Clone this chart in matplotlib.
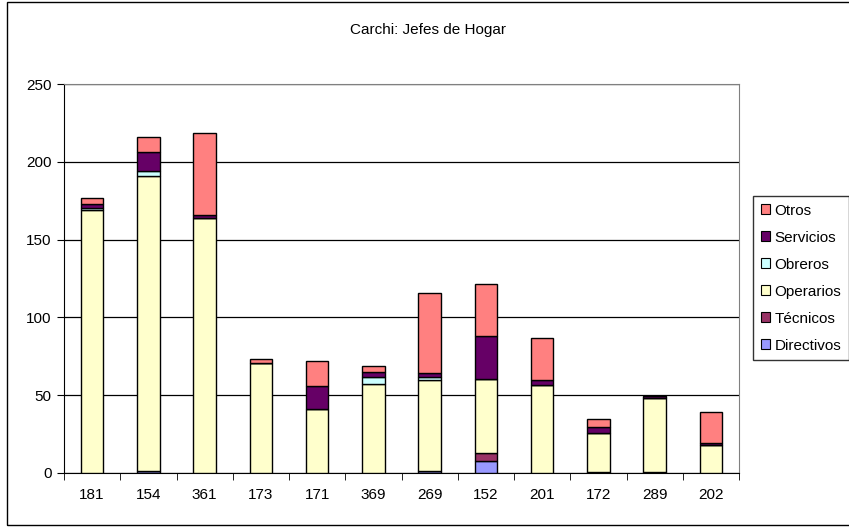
import matplotlib.pyplot as plt
from matplotlib.patches import Patch, Rectangle
import numpy as np

plt.rcParams['font.family'] = ['Liberation Sans', 'DejaVu Sans']

# Data
categories = ['181', '154', '361', '173', '171', '369', '269', '152', '201', '172', '289', '202']
directivos = [0, 1, 0, 0, 0, 0, 1.5, 8, 0, 0.5, 0.5, 0]
tecnicos = [0, 0, 0, 0, 0, 0, 0, 5, 0, 0, 0, 0]
operarios = [169, 190, 164, 71, 41, 57, 58.5, 47.5, 56.5, 25, 48, 18]
obreros = [1, 3, 0, 0, 0, 5, 1.5, 0, 0, 0, 0, 0]
servicios = [3, 12, 1.5, 0, 15, 3, 2.5, 27.5, 3.5, 4, 1, 1]
otros = [3.5, 10, 53, 2.5, 16, 4, 52, 33.5, 26.5, 5, 0, 20]

series = [
    ('Directivos', directivos, '#9999FF'),
    ('Técnicos', tecnicos, '#993366'),
    ('Operarios', operarios, '#FFFFCC'),
    ('Obreros', obreros, '#CCFFFF'),
    ('Servicios', servicios, '#660066'),
    ('Otros', otros, '#FF8080'),
]

W, H = 849, 527
fig = plt.figure(figsize=(W / 100, H / 100), dpi=100)
ax = fig.add_axes([64 / W, (H - 473) / H, 675 / W, 389 / H])

x = np.arange(len(categories))
bottom = np.zeros(len(categories))
for name, vals, col in series:
    vals = np.array(vals, dtype=float)
    ax.bar(x, vals, width=0.4, bottom=bottom, color=col, edgecolor='black',
           linewidth=1, zorder=3)
    bottom += vals

ax.set_xlim(-0.5, len(categories) - 0.5)
ax.set_ylim(0, 250)
ax.set_yticks(range(0, 251, 50))
ax.yaxis.grid(True, color='black', linewidth=0.9, zorder=0)
ax.tick_params(axis='y', direction='out', length=5, labelsize=11, pad=4)

# category labels centred, ticks between categories
ax.set_xticks(x)
ax.set_xticklabels(categories, fontsize=11)
ax.tick_params(axis='x', which='major', length=0, pad=11)
ax.set_xticks(np.arange(-0.5, len(categories)), minor=True)
ax.tick_params(axis='x', which='minor', direction='out', length=5)

for s in ['top', 'right']:
    ax.spines[s].set_color('#808080')
for s in ['left', 'bottom']:
    ax.spines[s].set_color('black')

fig.text(428 / W, 1 - 30 / H, 'Carchi: Jefes de Hogar', ha='center', va='center',
         fontsize=11)

# chart border
fig.patches.append(Rectangle((7 / W, 2 / H), 1.2, 1 - 4 / H, transform=fig.transFigure,
                             fill=False, edgecolor='black', linewidth=1))

handles = [Patch(facecolor=col, edgecolor='black', linewidth=0.8, label=name)
           for name, vals, col in reversed(series)]
leg = fig.legend(handles=handles, loc='upper left', bbox_to_anchor=(753 / W, 1 - 196 / H),
                 frameon=True, fancybox=False, fontsize=11, handlelength=0.6,
                 handleheight=0.6, handletextpad=0.3, labelspacing=0.85,
                 borderpad=0.5, borderaxespad=0)
leg.get_frame().set_edgecolor('black')
leg.get_frame().set_linewidth(1)

fig.savefig('out.png', dpi=100)
